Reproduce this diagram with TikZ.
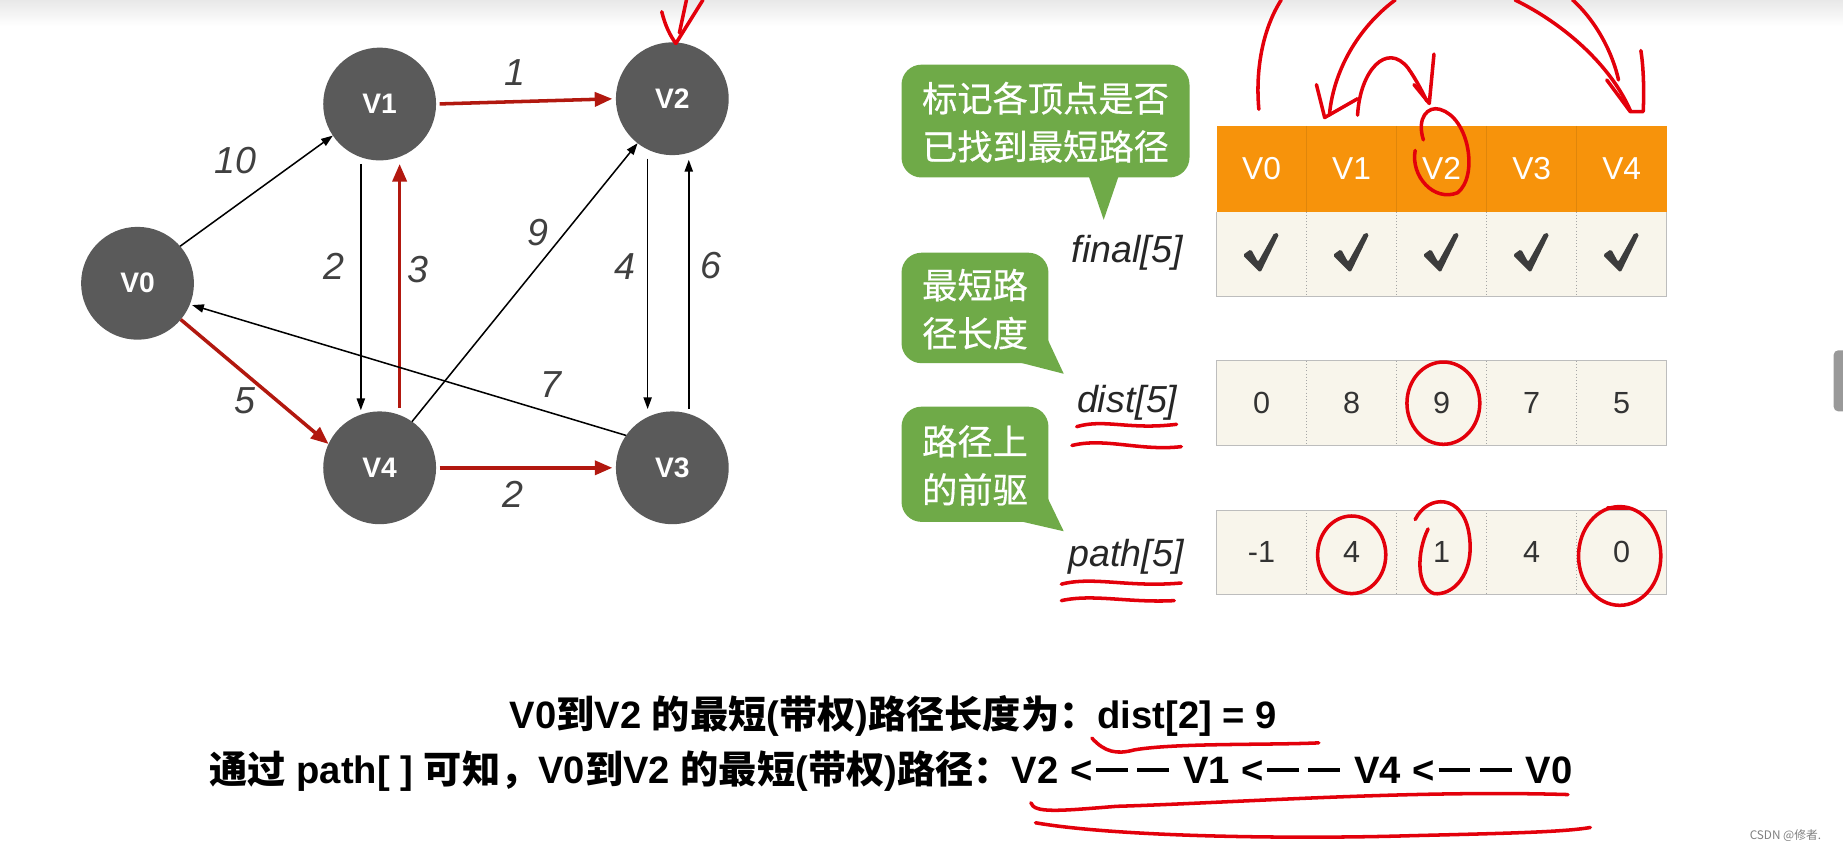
\documentclass[tikz,border=0pt]{standalone}
\usepackage{fontspec}
\setmainfont{Liberation Sans}
\newfontfamily\cjk{Noto Sans CJK SC}
\newfontfamily\cjkm[FakeBold=0.5]{Noto Sans CJK SC}
\usetikzlibrary{arrows.meta}
\definecolor{nodegray}{HTML}{5A5A5A}
\definecolor{arrred}{HTML}{B2180F}
\definecolor{penred}{HTML}{E3000B}
\definecolor{headorange}{HTML}{F7930B}
\definecolor{headline}{HTML}{E0860A}
\definecolor{cream}{HTML}{F8F5EB}
\definecolor{callgreen}{HTML}{6FAA48}
\definecolor{cellline}{HTML}{BDBDBD}
\definecolor{checkgray}{HTML}{3C3C3C}
\newcommand\myarr{\hspace{10pt}<\hspace{3pt}\rule[9.5pt]{27pt}{3.5pt}\hspace{8pt}\rule[9.5pt]{27pt}{3.5pt}\hspace{12pt}}
\begin{document}
\begin{tikzpicture}[x=1pt,y=-1pt,
  vtx/.style={circle,fill=nodegray,minimum size=96pt,inner sep=0pt,outer sep=0pt,text=white,font=\fontsize{24}{24}\selectfont\bfseries},
  blk/.style={draw=black,line width=1.3pt,-{Triangle[length=10pt,width=7pt]}},
  redarr/.style={draw=arrred,line width=3pt,-{Triangle[length=15pt,width=12pt]}},
  wlabel/.style={font=\fontsize{32}{32}\selectfont\itshape,text=black!75,inner sep=0pt},
  hcell/.style={minimum width=76.6pt,minimum height=72pt,inner sep=0pt,text=white,font=\fontsize{27}{27}\selectfont},
  vcell/.style={minimum width=76.6pt,minimum height=72pt,inner sep=0pt,text=black!80,font=\fontsize{26}{26}\selectfont},
  arrname/.style={font=\fontsize{32}{32}\selectfont\itshape,text=black!85,inner sep=0pt},
  calltext/.style={text=white,font=\cjkm\fontsize{30}{41}\selectfont,align=center,inner sep=0pt},
  btxt/.style={font=\fontsize{32.5}{32.5}\selectfont\bfseries,text=black,inner sep=0pt},
  pen/.style={draw=penred,line width=3pt,line cap=round,line join=round}
]
\useasboundingbox (0,0) rectangle (1568,723);
\fill[white] (0,0) rectangle (1568,723);
\shade[top color=black!9,bottom color=white] (0,0) rectangle (1568,22);
\fill[gray!80,rounded corners=4pt] (1560,298) rectangle (1572,350);

% ---------- graph ----------
\node[vtx] (v0) at (117,241) {V0};
\node[vtx] (v1) at (323,88.5) {V1};
\node[vtx] (v2) at (572,84) {V2};
\node[vtx] (v4) at (323,398) {V4};
\node[vtx] (v3) at (572,398) {V3};

\draw[blk] (v0.41) -- (v1.214);
\draw[redarr,shorten <=3pt,shorten >=3pt] (v1.east) -- (v2.west);
\draw[blk,shorten <=3pt,shorten >=1pt] ([xshift=-16pt]v1.south) -- ([xshift=-16pt]v4.north);
\draw[redarr,shorten <=3pt,shorten >=3pt] ([xshift=17pt]v4.north) -- ([xshift=17pt]v1.south);
\draw[blk] (v4.55) -- (v2.232);
\draw[blk,shorten <=3pt,shorten >=2pt] ([xshift=-21pt]v2.south) -- ([xshift=-21pt]v3.north);
\draw[blk,shorten <=2pt,shorten >=4pt] ([xshift=14pt]v3.north) -- ([xshift=14pt]v2.south);
\draw[blk,shorten >=2pt] (v3.145) -- (v0.-22);
\draw[redarr] (v0.-40) -- (v4.155);
\draw[redarr,shorten <=3pt,shorten >=3pt] (v4.east) -- (v3.west);

\node[wlabel] (w10) at (200,137) {10};
\node[wlabel] (w1) at (438,62) {1};
\node[wlabel] (w2a) at (284,227) {2};
\node[wlabel] (w3) at (356,229) {3};
\node[wlabel] (w9) at (458,198) {9};
\node[wlabel] (w4) at (532,227) {4};
\node[wlabel] (w6) at (605,226) {6};
\node[wlabel] (w7) at (469,327) {7};
\node[wlabel] (w5) at (208,341) {5};
\node[wlabel] (w2b) at (436,421) {2};

% ---------- table ----------
\fill[headorange] (1035,107) rectangle (1418,180);
\foreach \i in {1,...,4} \draw[headline,line width=0.6pt] ({1035+76.6*\i},107) -- ({1035+76.6*\i},180);
\foreach \i/\t in {0/V0,1/V1,2/V2,3/V3,4/V4}
  \node[hcell] (h\i) at ({1073.3+76.6*\i},143.5) {\t};

\foreach \ya/\yb in {180/252,307/379,434/506}{
  \fill[cream] (1035,\ya) rectangle (1418,\yb);
  \foreach \i in {1,...,4} \draw[gray!70,dotted,line width=0.7pt] ({1035+76.6*\i},\ya) -- ({1035+76.6*\i},\yb);
}
\draw[cellline,line width=1pt] (1035,180) -- (1035,252) -- (1418,252) -- (1418,180);
\draw[cellline,line width=1pt] (1035,307) rectangle (1418,379);
\draw[cellline,line width=1pt] (1035,434) rectangle (1418,506);

\foreach \i in {0,...,4}{
  \node[vcell] (c\i) at ({1073.3+76.6*\i},216) {};
  \fill[checkgray,rounded corners=1.5pt,shift={(c\i.center)}]
    (-16,1) -- (-9,-4) -- (-3,7) -- (11,-18) -- (15,-17) -- (-1,16) -- cycle;
}
\foreach \i/\t in {0/0,1/8,2/9,3/7,4/5}
  \node[vcell] (d\i) at ({1073.3+76.6*\i},343) {\t};
\foreach \i/\t in {0/-1,1/4,2/1,3/4,4/0}
  \node[vcell] (p\i) at ({1073.3+76.6*\i},470) {\t};

\node[arrname] (fin) at (959,215) {final[5]};
\node[arrname] (dst) at (959,343) {dist[5]};
\node[arrname] (pth) at (958,474) {path[5]};

% ---------- callouts ----------
\fill[callgreen,rounded corners=17pt] (767,55) rectangle (1012,151);
\fill[callgreen] (926,149) -- (952,149) -- (939,187) -- cycle;
\node[calltext] (t1) at (889.5,104) {标记各顶点是否\\已找到最短路径};

\fill[callgreen,rounded corners=17pt] (767,215) rectangle (892,309);
\fill[callgreen] (866,308) -- (891,288) -- (905,318) -- cycle;
\node[calltext] (t2) at (829.5,263) {最短路\\径长度};

\fill[callgreen,rounded corners=17pt] (767,346) rectangle (892,444);
\fill[callgreen] (866,443) -- (891,423) -- (905,452) -- cycle;
\node[calltext] (t3) at (829.5,396) {路径上\\的前驱};

% ---------- bottom text ----------
\node[btxt] (l1) at (760,609) {V0{\cjk 到}V2 {\cjk 的最短}({\cjk 带权}){\cjk 路径长度为：}dist[2] = 9};
\node[btxt] (l2) at (758,656) {{\cjk 通过} path[ ] {\cjk 可知，}V0{\cjk 到}V2 {\cjk 的最短}({\cjk 带权}){\cjk 路径：}V2\myarr V1\myarr V4\myarr V0};

\node[font=\cjk\fontsize{10}{10}\selectfont,text=gray] (wm) at (1519,711) {CSDN @修者.};

% ---------- pen annotations ----------
\draw[pen] (563,10) .. controls (566,22) and (570,30) .. (575,37);
\draw[pen] (598,0) -- (575,37);
\draw[pen] (584,0) -- (578,28);

\draw[pen] (1071,93) .. controls (1068,60) and (1074,25) .. (1090,0);
\draw[pen] (1187,0) .. controls (1160,20) and (1135,55) .. (1131,98);
\draw[pen] (1120,72) -- (1127,100) -- (1155,84);
\draw[pen] (1155,98) .. controls (1157,60) and (1180,35) .. (1198,58) .. controls (1205,68) and (1210,78) .. (1214,86);
\draw[pen] (1203,72) -- (1216,88) -- (1220,46);
\draw[pen] (1289,0) .. controls (1330,20) and (1370,55) .. (1387,94);
\draw[pen] (1338,0) .. controls (1358,18) and (1372,45) .. (1377,68);
\draw[pen] (1367,68) -- (1387,95) -- (1398,95) .. controls (1399,75) and (1398,55) .. (1396,43);

\draw[pen] (1211,119) .. controls (1205,100) and (1215,90) .. (1225,93) .. controls (1250,100) and (1258,150) .. (1240,164) .. controls (1220,172) and (1200,150) .. (1204,128);
\draw[pen] (1228,343) ellipse [x radius=31, y radius=35];
\draw[pen] (1150,472) ellipse [x radius=29, y radius=33];
\draw[pen] (1204,442) .. controls (1215,420) and (1245,420) .. (1250,455) .. controls (1255,490) and (1235,507) .. (1220,505) .. controls (1205,500) and (1205,470) .. (1215,450);
\draw[pen] (1378,473) ellipse [x radius=35, y radius=42];
\draw[pen] (1368,432) -- (1385,432);

\draw[pen] (916,363) .. controls (940,356) and (960,366) .. (1001,361);
\draw[pen] (912,379) .. controls (940,372) and (970,384) .. (1005,380);
\draw[pen] (903,497) .. controls (930,490) and (960,500) .. (1005,496);
\draw[pen] (903,511) .. controls (930,505) and (960,513) .. (999,511);

\draw[pen] (929,628) .. controls (940,640) and (950,642) .. (965,638) .. controls (1000,632) and (1080,634) .. (1122,632);
\draw[pen] (877,683) .. controls (880,692) and (900,690) .. (950,686) .. controls (1050,683) and (1200,672) .. (1334,676);
\draw[pen] (881,700) .. controls (950,712) and (1100,714) .. (1200,711) .. controls (1280,709) and (1330,708) .. (1353,704);
\end{tikzpicture}
\end{document}
